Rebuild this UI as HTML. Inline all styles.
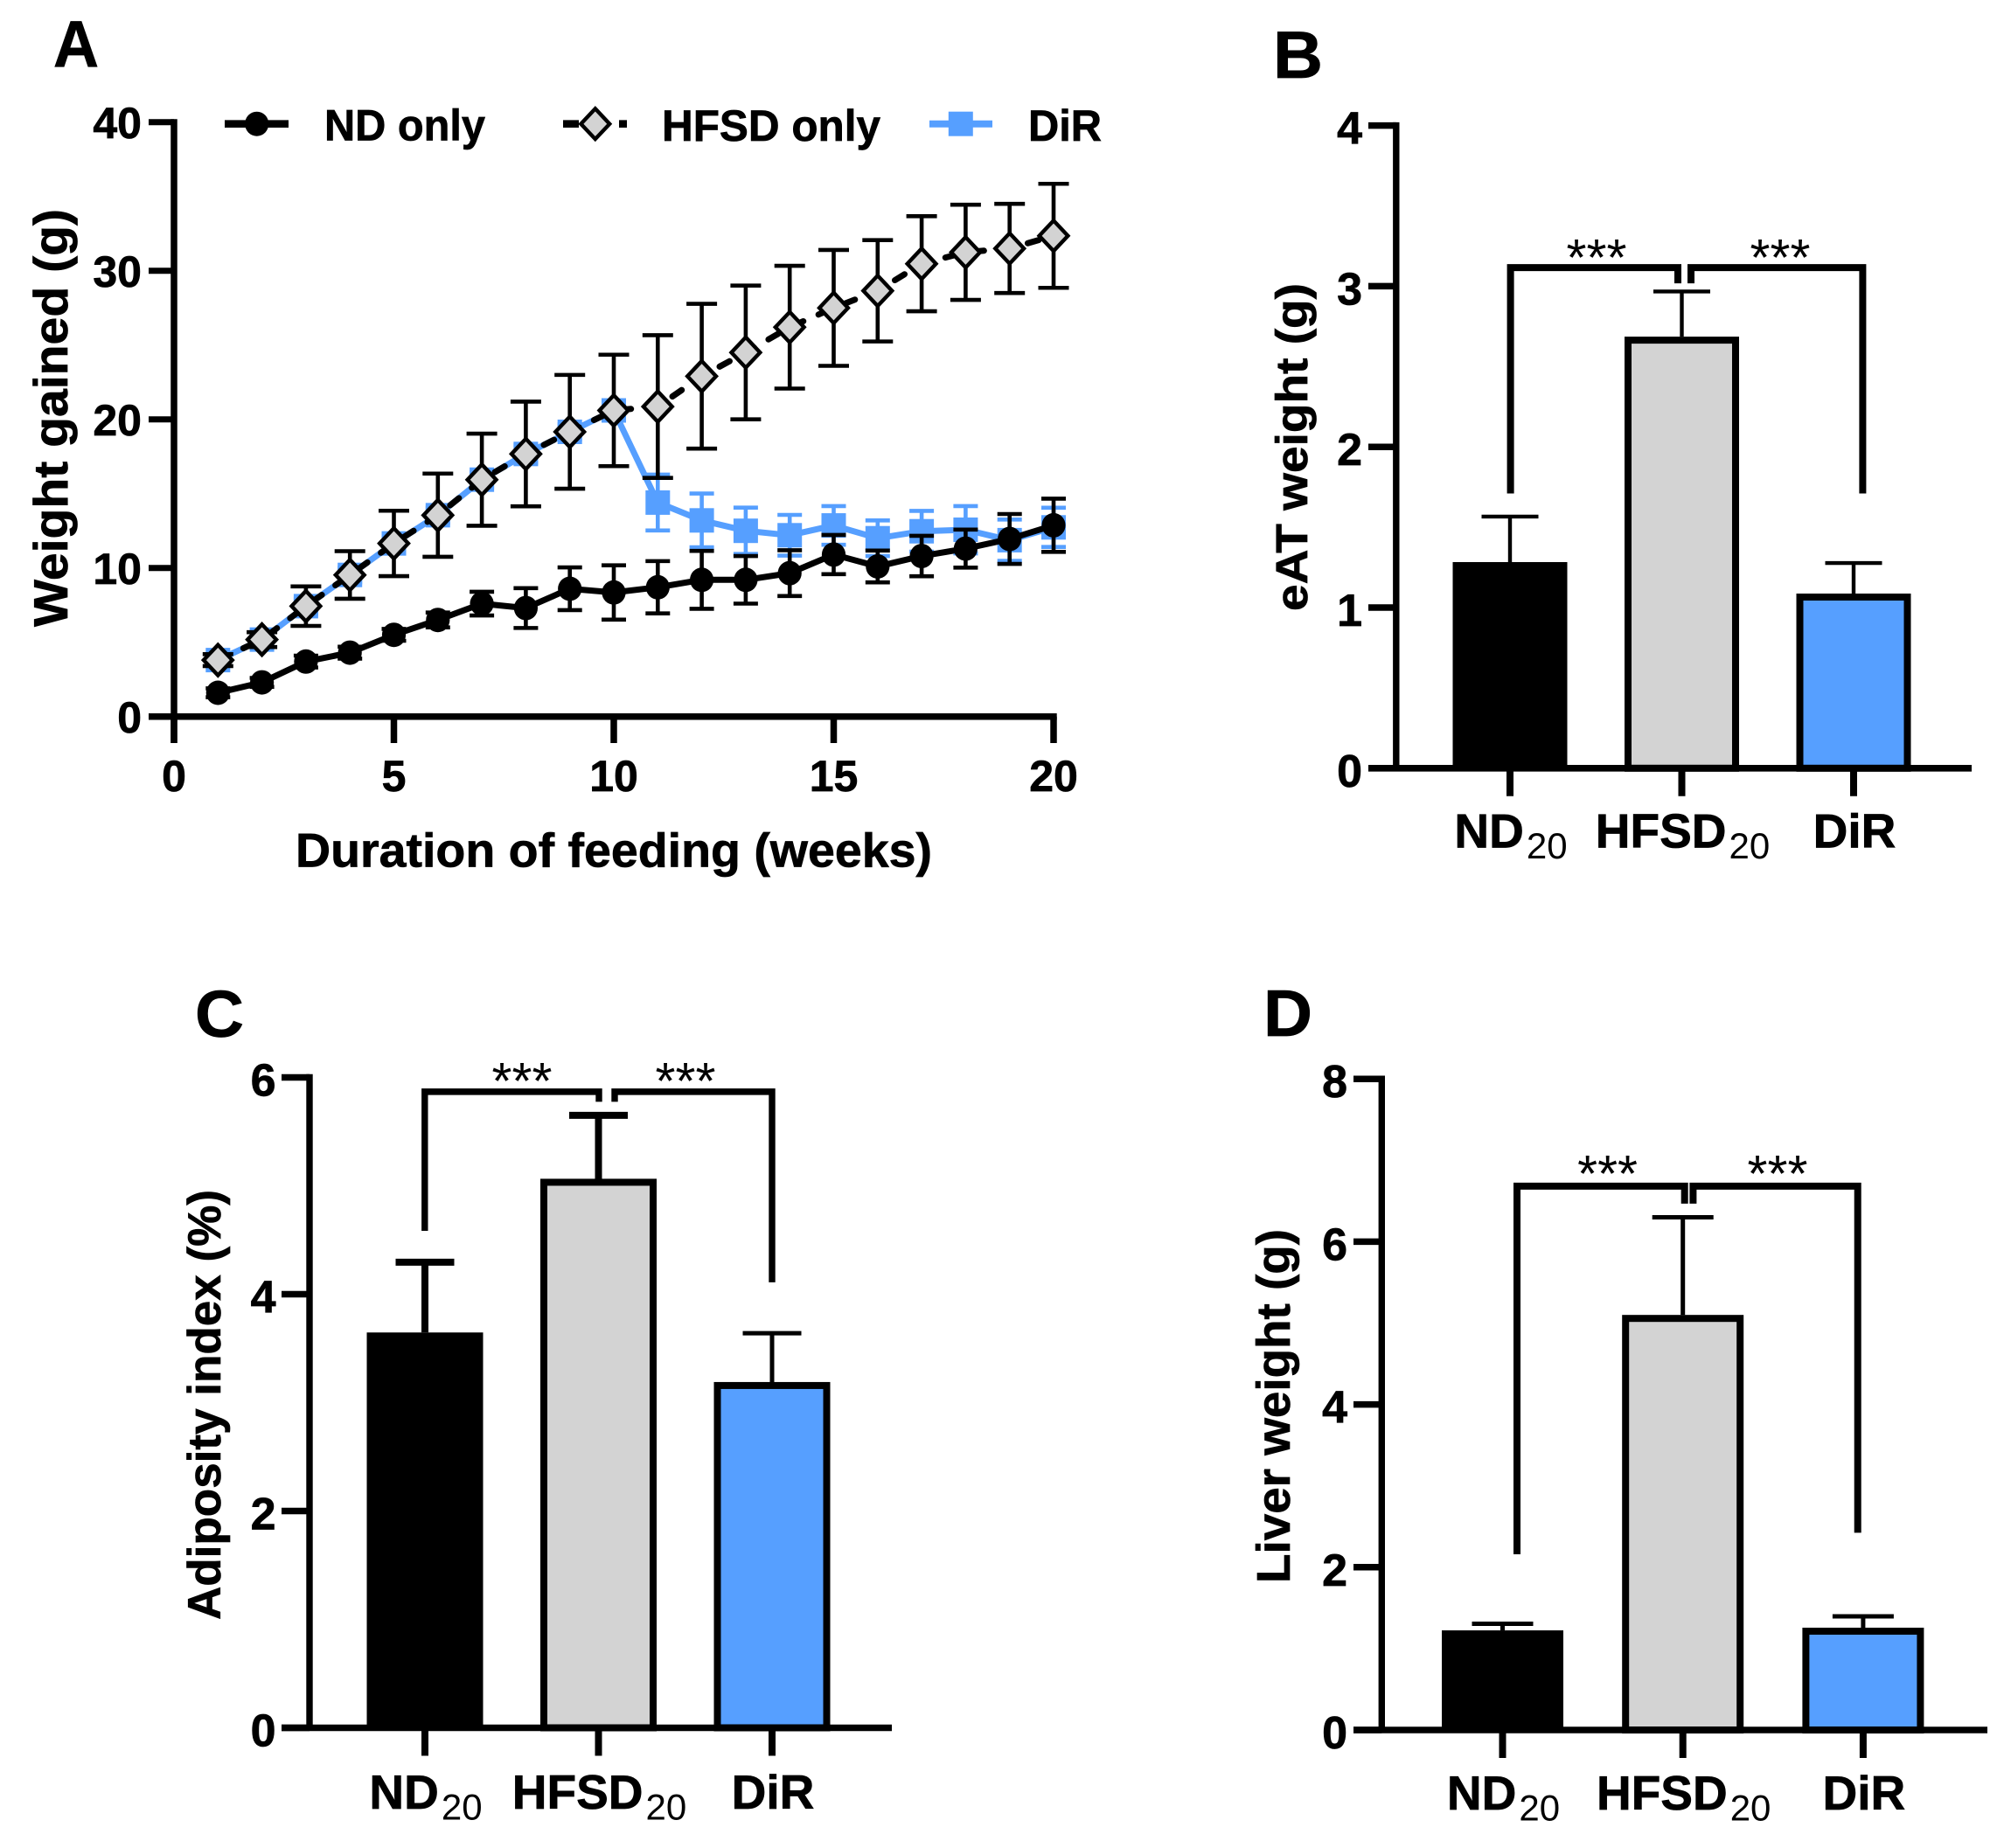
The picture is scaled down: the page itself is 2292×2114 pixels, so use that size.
<!DOCTYPE html>
<html lang="en">
<head>
<meta charset="utf-8">
<title>Weight gain and adiposity panels</title>
<style>
html,body{margin:0;padding:0;background:#fff}
svg{display:block}
text{font-family:"Liberation Sans",Arial,sans-serif;fill:#000}
.b{font-weight:700}
.b,text[font-weight="700"]{stroke:#000;stroke-width:.7px}
tspan[font-weight="400"]{stroke:none}
</style>
</head>
<body>
<svg id="fig" xmlns="http://www.w3.org/2000/svg" width="2292" height="2114" viewBox="0 0 2292 2114">
<rect width="2292" height="2114" fill="#fff"/>
<g id="panelA"></g>
<g id="panelB"></g>
<g id="panelC"></g>
<g id="panelD"></g>

<text class="b" x="61" y="76" font-size="75" textLength="52" lengthAdjust="spacingAndGlyphs">A</text>
<text class="b" x="1456" y="89" font-size="76" textLength="57" lengthAdjust="spacingAndGlyphs">B</text>
<text class="b" x="223" y="1186" font-size="75" textLength="56" lengthAdjust="spacingAndGlyphs">C</text>
<text class="b" x="1445" y="1185" font-size="75" textLength="56" lengthAdjust="spacingAndGlyphs">D</text>

<text class="b" transform="translate(77,717) rotate(-90)" font-size="55" textLength="478" lengthAdjust="spacingAndGlyphs">Weight gained (g)</text>
<text class="b" x="338" y="991.7" font-size="55" textLength="728" lengthAdjust="spacingAndGlyphs">Duration of feeding (weeks)</text>
<text class="b" transform="translate(1495,699) rotate(-90)" font-size="51" textLength="375" lengthAdjust="spacingAndGlyphs">eAT weight (g)</text>
<text class="b" transform="translate(252,1853) rotate(-90)" font-size="53" textLength="492" lengthAdjust="spacingAndGlyphs">Adiposity index (%)</text>
<text class="b" transform="translate(1475,1811) rotate(-90)" font-size="54" textLength="405" lengthAdjust="spacingAndGlyphs">Liver weight (g)</text>

<text class="b" x="371" y="160.7" font-size="50" textLength="184" lengthAdjust="spacingAndGlyphs">ND only</text>
<text class="b" x="757" y="161" font-size="50" textLength="250" lengthAdjust="spacingAndGlyphs">HFSD only</text>
<text class="b" x="1176" y="161" font-size="50" textLength="84" lengthAdjust="spacingAndGlyphs">DiR</text>

<text x="1826" y="315" font-size="59" text-anchor="middle">***</text>
<text x="2036" y="315" font-size="59" text-anchor="middle">***</text>
<text x="597" y="1257" font-size="59" text-anchor="middle">***</text>
<text x="784" y="1257" font-size="59" text-anchor="middle">***</text>
<text x="1838.6" y="1363" font-size="59" text-anchor="middle">***</text>
<text x="2033" y="1363" font-size="59" text-anchor="middle">***</text>
</svg>

<script>
// Panel A data
const weeks = [1,2,3,4,5,6,7,8,9,10,11,12,13,14,15,16,17,18,19,20];
const ndMeans = [1.6,2.3,3.7,4.3,5.5,6.5,7.6,7.3,8.6,8.35,8.7,9.2,9.2,9.65,10.9,10.1,10.8,11.3,11.95,12.87];
const ndErrors = [0.3,0.3,0.4,0.4,0.4,0.5,0.8,1.34,1.44,1.83,1.76,1.95,1.6,1.54,1.32,1.07,1.36,1.28,1.68,1.79];
const hfsdMeans = [3.8,5.18,7.43,9.53,11.65,13.55,15.94,17.67,19.16,20.6,20.86,22.9,24.5,26.2,27.5,28.65,30.47,31.24,31.5,32.35];
const hfsdErrors = [0.4,0.5,1.33,1.6,2.2,2.8,3.1,3.52,3.83,3.75,4.8,4.87,4.5,4.13,3.9,3.41,3.2,3.2,3.0,3.5];
const dirMeans = [3.8,5.18,7.43,9.53,11.65,13.55,15.94,17.67,19.16,20.6,14.4,13.2,12.5,12.2,12.86,12.0,12.47,12.57,11.87,12.73];
const dirErrors = [0.3,0.4,0.5,0.5,0.5,0.5,0.5,0.6,0.5,0.5,1.88,1.81,1.56,1.37,1.3,1.2,1.37,1.59,1.39,1.32];
const weekTicks = [0,5,10,15,20];
const gainTicks = [0,10,20,30,40];

// Bar panel data
const categories = ['ND','HFSD','DiR'];
const subscripts = ['20','20',''];
const eatMeans = [1.283,2.686,1.087];
const eatErrors = [0.283,0.281,0.19];
const eatTicks = [0,1,2,3,4];
const eatBracketLevels = [3.116,3.018,1.71,1.71];
const adiposityMeans = [3.647,5.065,3.19];
const adiposityErrors = [0.648,0.585,0.45];
const adiposityTicks = [0,2,4,6];
const adiposityBracketLevels = [5.868,5.775,4.585,4.11];
const liverMeans = [1.224,5.1,1.257];
const liverErrors = [0.081,1.2,0.139];
const liverTicks = [0,2,4,6,8];
const liverBracketLevels = [6.683,6.468,2.159,2.424];

const NS = 'http://www.w3.org/2000/svg';
const BLUE = '#569FFF';
const GREY = '#D3D3D3';

function make(tag, props, parent) {
  const e = document.createElementNS(NS, tag);
  for (const k in props) e.setAttribute(k, props[k]);
  parent.appendChild(e);
  return e;
}

function hLine(parent, x1, x2, y, w) {
  return make('line', {x1: x1, x2: x2, y1: y, y2: y, stroke: '#000', 'stroke-width': w}, parent);
}
function vLine(parent, x, y1, y2, w) {
  return make('line', {x1: x, x2: x, y1: y1, y2: y2, stroke: '#000', 'stroke-width': w}, parent);
}

/* ---------- Panel A ---------- */
const ax = v => 199 + v * 50.3;
const ay = v => 819.7 - v * 17;
const gA = document.getElementById('panelA');

function drawSeries(name, means, errors, color, capW, dash, drawMarker) {
  const g = make('g', {}, gA);
  
  
  weeks.forEach((w, i) => {
    const x = ax(w), t = ay(means[i] + errors[i]), b = ay(means[i] - errors[i]);
    const eb = make('path', {
      d: `M${x - capW / 2} ${t}H${x + capW / 2}M${x} ${t}V${b}M${x - capW / 2} ${b}H${x + capW / 2}`,
      fill: 'none', stroke: color, 'stroke-width': 4.6
    }, g);
    
    
  });
  const pts = weeks.map((w, i) => ax(w) + ',' + ay(means[i])).join(' ');
  const line = make('polyline', {points: pts, fill: 'none', stroke: color, 'stroke-width': 7, 'stroke-linejoin': 'round'}, g);
  if (dash) {
    line.setAttribute('stroke-dasharray', dash);
    line.setAttribute('stroke-linecap', 'round');
  }
  
  
  weeks.forEach((w, i) => {
    const m = drawMarker(g, ax(w), ay(means[i]));
    
    
  });
}

const circleMarker = (g, x, y) => make('ellipse', {cx: x, cy: y, rx: 13.6, ry: 14, fill: '#000'}, g);
const squareMarker = (g, x, y) => make('rect', {x: x - 14, y: y - 14, width: 28, height: 28, fill: BLUE}, g);
const diamondMarker = (g, x, y) => make('path', {
  d: `M${x} ${y - 17.4}L${x + 16.4} ${y}L${x} ${y + 17.4}L${x - 16.4} ${y}Z`,
  fill: GREY, stroke: '#000', 'stroke-width': 4.4, 'stroke-linejoin': 'miter'
}, g);

drawSeries('dir', dirMeans, dirErrors, BLUE, 28, null, squareMarker);
drawSeries('hfsd-only', hfsdMeans, hfsdErrors, '#000', 35, '13 19', diamondMarker);
drawSeries('nd-only', ndMeans, ndErrors, '#000', 28, null, circleMarker);

const aYAxis = vLine(gA, ax(0), ay(40) - 3.5, 850, 7.5);


const aXAxis = hLine(gA, 170, ax(20) + 3.7, ay(0), 7.5);



gainTicks.forEach(v => {
  const tick = hLine(gA, 170, ax(0), ay(v), 7);
  
  
  const label = make('text', {x: 162, y: ay(v) + 18.3, 'font-size': 50, 'font-weight': 700, 'text-anchor': 'end'}, gA);
  label.textContent = v;
  
  
});
weekTicks.forEach(v => {
  const tick = vLine(gA, ax(v), ay(0), 850, 7.5);
  
  
  const label = make('text', {x: ax(v), y: 905, 'font-size': 50, 'font-weight': 700, 'text-anchor': 'middle'}, gA);
  label.textContent = v;
  
  
});

// Legend keys
const legendND = make('g', {}, gA);


make('line', {x1: 257, x2: 330, y1: 141.7, y2: 141.7, stroke: '#000', 'stroke-width': 8.6}, legendND);
circleMarker(legendND, 293.7, 141.7);

const legendH = make('g', {}, gA);


make('line', {x1: 644, x2: 717, y1: 141.7, y2: 141.7, stroke: '#000', 'stroke-width': 8.6, 'stroke-dasharray': '18 46 9'}, legendH);
diamondMarker(legendH, 680.8, 141.7);

const legendD = make('g', {}, gA);


make('line', {x1: 1063, x2: 1135, y1: 141.7, y2: 141.7, stroke: BLUE, 'stroke-width': 8}, legendD);
squareMarker(legendD, 1098.8, 141.7);

/* ---------- Bar panels ---------- */
function drawBars(cfg) {
  const g = document.getElementById(cfg.id);
  const y = v => cfg.y0 - v * cfg.unit;
  const cx = i => cfg.x0 + i * cfg.step;

  const axisY = vLine(g, cfg.axisX, y(cfg.ticks[cfg.ticks.length - 1]) - 3.7, cfg.y0, 7.4);
  
  

  cfg.ticks.forEach(v => {
    const tick = hLine(g, cfg.tickLeft, cfg.axisX, y(v), 7.5);
    
    
    const label = make('text', {x: cfg.labelRight, y: y(v) + 21, 'font-size': 52, 'font-weight': 700, 'text-anchor': 'end'}, g);
    label.textContent = v;
    
    
  });

  categories.forEach((c, i) => {
    const mean = cfg.means[i], err = cfg.errors[i];
    const sw = i === 0 ? 0 : 8;
    const fill = i === 0 ? '#000' : (i === 1 ? GREY : BLUE);
    const w = cfg.barW;

    const bar = make('rect', {
      x: cx(i) - w / 2 + sw / 2, y: y(mean) + sw / 2,
      width: w - sw, height: cfg.y0 - y(mean) - sw / 2,
      fill: fill, stroke: '#000', 'stroke-width': sw
    }, g);
    
    

    const ew = i === 2 ? cfg.errThin : cfg.errThick;
    const eb = make('path', {
      d: `M${cx(i)} ${y(mean)}V${y(mean + err)}M${cx(i) - cfg.capW / 2} ${y(mean + err)}H${cx(i) + cfg.capW / 2}`,
      fill: 'none', stroke: '#000', 'stroke-width': ew
    }, g);
    
    

    const tick = vLine(g, cx(i), cfg.y0, cfg.y0 + 32, 8);
    
    

    const label = make('text', {x: cx(i) + 1, y: cfg.catY, 'font-size': 55, 'font-weight': 700, 'text-anchor': 'middle'}, g);
    
    
    const main = make('tspan', {}, label);
    main.textContent = c;
    if (subscripts[i]) {
      const sub = make('tspan', {dx: 3, dy: 12.5, 'font-size': 42, 'font-weight': 400}, label);
      sub.textContent = subscripts[i];
    }
  });

  const axisX = hLine(g, cfg.tickLeft, cfg.axisRight, cfg.y0, 7.6);
  
  

  const top = y(cfg.levels[0]), tip = y(cfg.levels[1]);
  const left = make('path', {
    d: `M${cfg.legL} ${y(cfg.levels[2])}V${top}H${cfg.tipL}V${tip}`,
    fill: 'none', stroke: '#000', 'stroke-width': cfg.brW, 'stroke-linejoin': 'miter'
  }, g);
  
  
  const right = make('path', {
    d: `M${cfg.legR} ${y(cfg.levels[3])}V${top}H${cfg.tipR}V${tip}`,
    fill: 'none', stroke: '#000', 'stroke-width': cfg.brW, 'stroke-linejoin': 'miter'
  }, g);
  
  
}

drawBars({id: 'panelB', key: 'b', means: eatMeans, errors: eatErrors, ticks: eatTicks, levels: eatBracketLevels,
  y0: 878.8, unit: 183.8, x0: 1727, step: 196.5, barW: 131, capW: 65, axisX: 1596.8, tickLeft: 1565, axisRight: 2255,
  labelRight: 1558, catY: 969.4, errThick: 4.4, errThin: 4.4, brW: 8, legL: 1727.6, legR: 2130.4, tipL: 1919, tipR: 1934});

drawBars({id: 'panelC', key: 'c', means: adiposityMeans, errors: adiposityErrors, ticks: adiposityTicks, levels: adiposityBracketLevels,
  y0: 1976.5, unit: 124, x0: 486, step: 198.5, barW: 133, capW: 67, axisX: 354, tickLeft: 322, axisRight: 1020,
  labelRight: 315.5, catY: 2069, errThick: 8, errThin: 5, brW: 7.4, legL: 485.8, legR: 883, tipL: 685, tipR: 703});

drawBars({id: 'panelD', key: 'd', means: liverMeans, errors: liverErrors, ticks: liverTicks, levels: liverBracketLevels,
  y0: 1979, unit: 93.1, x0: 1718.5, step: 206.2, barW: 139, capW: 70, axisX: 1580.3, tickLeft: 1548, axisRight: 2273,
  labelRight: 1541, catY: 2070, errThick: 5, errThin: 5, brW: 8, legL: 1735, legR: 2124.7, tipL: 1926.7, tipR: 1936.4});
</script>
</body>
</html>
